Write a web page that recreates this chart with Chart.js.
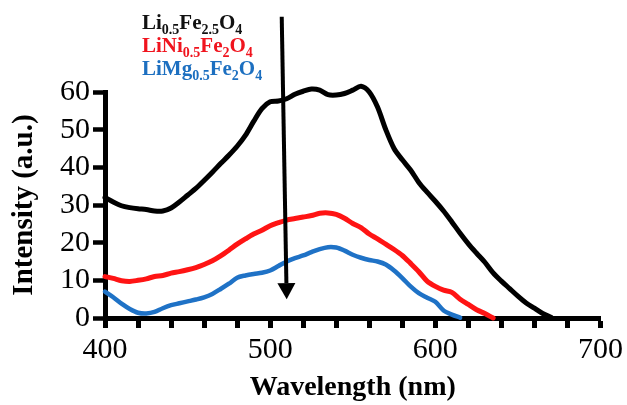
<!DOCTYPE html>
<html>
<head>
<meta charset="utf-8">
<script src="https://cdn.jsdelivr.net/npm/chart.js@4.4.1/dist/chart.umd.min.js"></script>
<style>
  html, body { margin: 0; padding: 0; background: #fff; }
</style>
</head>
<body>
<canvas id="plChart" width="627" height="405"></canvas>
<script>
// PL spectra, intensity vs wavelength (nm)
var wavelength = [400, 405, 410, 415, 420, 425, 430, 435, 440, 445,
                  450, 455, 460, 465, 470, 475, 480, 485, 490, 495,
                  500, 505, 510, 515, 520, 525, 530, 535, 540, 545,
                  550, 555, 560, 565, 570, 575, 580, 585, 590, 595,
                  600, 605, 610, 615, 620, 625, 630, 635, 640, 645,
                  650, 655, 660, 665, 670];

var liFe = [32, 30.8, 29.8, 29.3, 29, 28.8, 28.4, 28.4, 29.2, 30.8,
            32.6, 34.4, 36.5, 38.7, 41, 43.2, 45.6, 48.5, 52.2, 55.6,
            57.4, 57.6, 58.2, 59.4, 60.2, 60.8, 60.5, 59.3, 59.2, 59.6,
            60.5, 61.5, 60, 56, 50, 45, 42, 39.3, 36, 33.4,
            31, 28.4, 25.5, 22.5, 19.7, 17.2, 14.8, 12, 9.8, 7.8,
            5.8, 4, 2.6, 1.2, 0.2];

var liNiFe = [11, 10.5, 9.9, 9.7, 10, 10.4, 11, 11.3, 11.9, 12.3,
              12.8, 13.4, 14.2, 15.2, 16.5, 18, 19.6, 21, 22.3, 23.3,
              24.5, 25.3, 26, 26.4, 26.8, 27.2, 27.8, 27.9, 27.5, 26.5,
              25.1, 24, 22.3, 21, 19.6, 18.2, 16.6, 14.5, 12.3, 9.8,
              8.4, 7.4, 6.8, 5, 3.6, 2.2, 1.2, 0];

var liMgFe = [7, 5.5, 3.8, 2.4, 1.4, 1.2, 1.6, 2.6, 3.4, 3.9,
              4.4, 4.9, 5.5, 6.4, 7.7, 9.1, 10.7, 11.3, 11.7, 12,
              12.6, 13.8, 15, 15.9, 16.6, 17.5, 18.3, 18.8, 18.7, 17.9,
              16.8, 16, 15.4, 15, 14.2, 12.6, 10.6, 8.4, 6.6, 5.4,
              4.3, 2, 0.9, 0.1];

// {..} marks a subscript
var seriesLabels = ['Li{0.5}Fe{2.5}O{4}', 'LiNi{0.5}Fe{2}O{4}', 'LiMg{0.5}Fe{2}O{4}'];
var seriesColors = ['#000000', '#ff1414', '#1f72c6'];
var labelColors = ['#111111', '#f0141e', '#1c6fc0'];

var xLabels = [400, 500, 600, 700];
// arrow, in data units (start -> head)
var arrowStart = { x: 507, y: 80 };
var arrowEnd = { x: 510, y: 5 };

var serif = "'Liberation Serif', 'Times New Roman', serif";

function toPoints(values) {
    return values.map(function (v, i) { return { x: wavelength[i], y: v }; });
}

// legend with subscripts, top left
var formulaLegend = {
    id: 'formulaLegend',
    afterDraw: function (chart) {
        var ctx = chart.ctx;
        var x0 = 142, y0 = 29, step = 23;
        ctx.save();
        ctx.textBaseline = 'alphabetic';
        ctx.textAlign = 'left';
        seriesLabels.forEach(function (label, k) {
            var x = x0, y = y0 + k * step;
            ctx.fillStyle = labelColors[k];
            label.split(/(\{[^}]*\})/).forEach(function (part) {
                if (!part) return;
                if (part.charAt(0) === '{') {
                    part = part.slice(1, -1);
                    ctx.font = 'bold 14px ' + serif;
                    ctx.fillText(part, x, y + 5);
                } else {
                    ctx.font = 'bold 21px ' + serif;
                    ctx.fillText(part, x, y);
                }
                x += ctx.measureText(part).width;
            });
        });
        ctx.restore();
    }
};

// downward arrow across the curves
var trendArrow = {
    id: 'trendArrow',
    afterDatasetsDraw: function (chart) {
        var ctx = chart.ctx;
        var xs = chart.scales.x, ys = chart.scales.y;
        var x1 = xs.getPixelForValue(arrowStart.x), y1 = ys.getPixelForValue(arrowStart.y);
        var x2 = xs.getPixelForValue(arrowEnd.x), y2 = ys.getPixelForValue(arrowEnd.y);
        var ang = Math.atan2(y2 - y1, x2 - x1);
        var headLen = 16, headHalf = 9;
        var bx = x2 - headLen * Math.cos(ang), by = y2 - headLen * Math.sin(ang);
        ctx.save();
        ctx.strokeStyle = '#000';
        ctx.fillStyle = '#000';
        ctx.lineWidth = 4;
        ctx.beginPath();
        ctx.moveTo(x1, y1);
        ctx.lineTo(bx, by);
        ctx.stroke();
        ctx.beginPath();
        ctx.moveTo(x2, y2);
        ctx.lineTo(bx + headHalf * Math.sin(ang), by - headHalf * Math.cos(ang));
        ctx.lineTo(bx - headHalf * Math.sin(ang), by + headHalf * Math.cos(ang));
        ctx.closePath();
        ctx.fill();
        ctx.restore();
    }
};

function makeSet(values, k, width) {
    return {
        label: seriesLabels[k],
        data: toPoints(values),
        borderColor: seriesColors[k],
        backgroundColor: seriesColors[k],
        borderWidth: width,
        pointRadius: 0,
        tension: 0.3,
        borderJoinStyle: 'round',
        borderCapStyle: 'round',
        fill: false,
        clip: false
    };
}

var config = {
    type: 'line',
    data: {
        datasets: [
            makeSet(liFe, 0, 5),
            makeSet(liNiFe, 1, 5),
            makeSet(liMgFe, 2, 4.5)
        ]
    },
    options: {
        responsive: false,
        animation: false,
        layout: { padding: { top: 92, right: 3, bottom: 0, left: 0 } },
        plugins: {
            legend: { display: false },
            tooltip: { enabled: false }
        },
        scales: {
            x: {
                type: 'linear',
                min: 400,
                max: 700,
                ticks: {
                    stepSize: 20,
                    autoSkip: false,
                    maxRotation: 0,
                    padding: 4,
                    color: '#000',
                    font: { family: serif, size: 30 },
                    callback: function (v) { return xLabels.indexOf(v) >= 0 ? String(v) : ''; }
                },
                grid: { drawOnChartArea: false, tickLength: 10, tickWidth: 5, tickColor: '#000' },
                border: { width: 5, color: '#000' },
                title: {
                    display: true,
                    text: 'Wavelength (nm)',
                    color: '#000',
                    font: { family: serif, size: 28, weight: 'bold' },
                    padding: { top: 0, bottom: 0 }
                },
                afterFit: function (scale) { scale.height = 87; }
            },
            y: {
                min: 0,
                max: 60,
                ticks: {
                    stepSize: 10,
                    autoSkip: false,
                    padding: 3,
                    color: '#000',
                    font: { family: serif, size: 30, lineHeight: 1 }
                },
                grid: { drawOnChartArea: false, tickLength: 12, tickWidth: 4.5, tickColor: '#000' },
                border: { width: 5, color: '#000' },
                title: {
                    display: true,
                    text: 'Intensity (a.u.)',
                    color: '#000',
                    font: { family: serif, size: 29, weight: 'bold' },
                    padding: { top: 7, bottom: 0 }
                },
                afterFit: function (scale) { scale.width = 105; }
            }
        }
    },
    plugins: [formulaLegend, trendArrow]
};

var ctx = document.getElementById('plChart').getContext('2d');
var plChart = new Chart(ctx, config);
</script>
</body>
</html>
